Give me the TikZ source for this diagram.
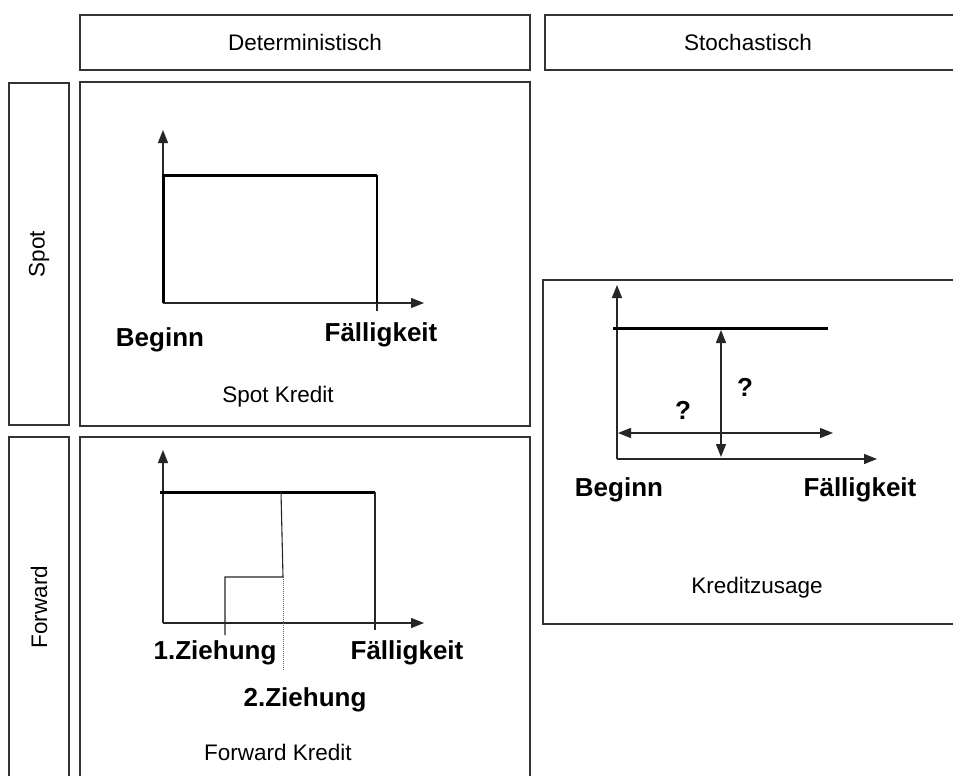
\documentclass[tikz,border=0pt]{standalone}
\usepackage{fontspec}
\setmainfont{Liberation Sans}
\usetikzlibrary{arrows.meta}
\begin{document}
\begin{tikzpicture}[x=1pt,y=-1pt,
  frame/.style={draw=black!80,line width=1.3pt},
  lbl/.style={font=\fontsize{22.5}{27}\selectfont,inner sep=0pt},
  blbl/.style={font=\bfseries\fontsize{26}{31}\selectfont,inner sep=0pt},
  tip/.style={Triangle[length=13pt,width=10pt]},
  axis/.style={draw=black!85,line width=1.4pt,-{Triangle[length=13pt,width=10pt]}},
  dbl/.style={draw=black!85,line width=1.4pt,{Triangle[length=13pt,width=10pt]}-{Triangle[length=13pt,width=10pt]}},
  thick3/.style={draw=black,line width=3pt},
  thin1/.style={draw=black!85,line width=1.1pt}]
\useasboundingbox (0,0) rectangle (953,776);
\fill[white] (0,0) rectangle (953,776);
% frames
\draw[frame] (80,15) rectangle (530,70);
\draw[frame] (545,15) rectangle (970,70);
\draw[frame] (9,83) rectangle (69,425);
\draw[frame] (80,82) rectangle (530,426);
\draw[frame] (9,437) rectangle (69,790);
\draw[frame] (80,437) rectangle (530,790);
\draw[frame] (543,280) rectangle (970,624);
% header labels
\node[lbl] (det) at (305,42) {Deterministisch};
\node[lbl] (sto) at (748,42) {Stochastisch};
\node[lbl,rotate=90] (spot) at (39,254) {Spot};
\node[lbl,rotate=90] (fwd) at (39,607) {Forward};
% --- Spot Kredit ---
\coordinate (s0) at (163,303);
\coordinate (sy) at (163,130);
\coordinate (sx) at (424,303);
\draw[axis] (s0) -- (sy);
\draw[axis] (s0) -- (sx);
\coordinate (stl) at (163,175);
\coordinate (str) at (377,175);
\coordinate (sbr) at (377,303);
\draw[thick3,line join=miter] (s0) -- (stl) -- (str);
\draw[black,line width=2.2pt] (str) -- (sbr);
\draw[thin1] (sbr) -- ++(0,8);
\node[blbl] (sbeg) at (160,340) {Beginn};
\node[blbl] (sfae) at (381,335) {Fälligkeit};
\node[lbl] (skr) at (278,397) {Spot Kredit};
% --- Forward Kredit ---
\coordinate (f0) at (163,623);
\coordinate (fy) at (163,450);
\coordinate (fx) at (424,623);
\draw[axis] (f0) -- (fy);
\draw[axis] (f0) -- (fx);
\coordinate (ftl) at (160,492);
\coordinate (ftr) at (375,492);
\draw[thick3] (ftl) -- (ftr);
\draw[thin1] (ftr) -- (375,630);
\coordinate (z1b) at (225,635);
\coordinate (z1t) at (225,577);
\coordinate (z2b) at (283,577);
\coordinate (z2t) at (281,492);
\draw[thin1] (z1b) -- (z1t) -- (z2b) -- (z2t);
\draw[black!60,line width=1pt,densely dotted] (z2b) -- (283,670);
\node[blbl] (z1) at (215,653) {1.Ziehung};
\node[blbl] (ffae) at (407,653) {Fälligkeit};
\node[blbl] (z2) at (305,700) {2.Ziehung};
\node[lbl] (fkr) at (278,752) {Forward Kredit};
% --- Kreditzusage ---
\coordinate (k0) at (617,459);
\coordinate (ky) at (617,285);
\coordinate (kx) at (877,459);
\draw[axis] (k0) -- (ky);
\draw[axis] (k0) -- (kx);
\coordinate (kl) at (613,328);
\coordinate (kr) at (828,328);
\draw[thick3] (kl) -- (kr);
\coordinate (vt) at (721,330);
\coordinate (vb) at (721,457);
\draw[dbl] (vt) -- (vb);
\coordinate (hl) at (618,433);
\coordinate (hr) at (833,433);
\draw[dbl] (hl) -- (hr);
\node[blbl] (q1) at (745,387) {?};
\node[blbl] (q2) at (683,410) {?};
\node[blbl] (kbeg) at (619,490) {Beginn};
\node[blbl] (kfae) at (860,490) {Fälligkeit};
\node[lbl] (kzu) at (757,588) {Kreditzusage};
\end{tikzpicture}
\end{document}
